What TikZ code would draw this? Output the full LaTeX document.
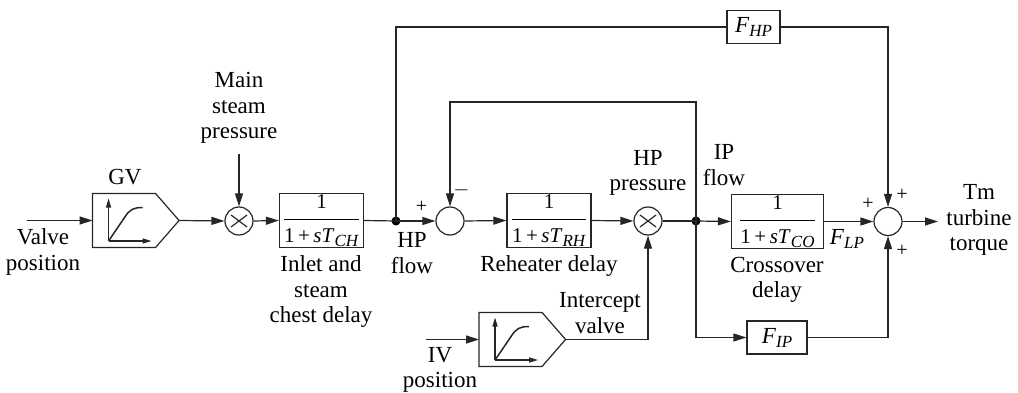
\documentclass[tikz,border=0pt]{standalone}
\usepackage{amsmath}
\usepackage{fontspec}
\setmainfont{Liberation Serif}
\usetikzlibrary{arrows.meta,calc}
\newcommand{\lblfont}{\fontsize{23}{25.5}\selectfont}
\newcommand{\lagfrac}[1]{\raisebox{-1pt}{$\dfrac{\mbox{\fontsize{21}{21}\selectfont 1}}{\mbox{\fontsize{21}{21}\selectfont 1\,+\,\textit{sT}\raisebox{-4pt}{\fontsize{17}{17}\selectfont\textit{#1}}}}$}}
\newcommand{\gainlbl}[2]{\textit{#1}\raisebox{-4pt}{\fontsize{17}{17}\selectfont\textit{#2}}}
\newcommand{\signlbl}[1]{\fontsize{20}{20}\selectfont #1}
\newcommand{\limiter}[2]{
    \node[limbox] (#1) at (#2) {};
    \begin{scope}[shift={(#1.west)}]
        \draw[line] (0,-27) -- (63,-27) -- (86.5,0) -- (63,27) -- (0,27) -- cycle;
        \draw[axis] (16,20.5) -- (16,-22);
        \draw[axis] (16,20.5) -- (59,20.5);
        \draw[line,line width=1.5pt] (16,20.5) -- (32,-3) .. controls (37,-11) and (41,-13) .. (50,-13);
    \end{scope}
}
\newcommand{\mulcross}[1]{
    \draw[line] ([shift={(-8,-6)}]#1.center) -- ([shift={(8,6)}]#1.center);
    \draw[line] ([shift={(-8,6)}]#1.center) -- ([shift={(8,-6)}]#1.center);
}
\tikzset{
    line/.style={line width=1.2pt,black!85},
    sig/.style={line,-{Triangle[length=13pt,width=8pt]}},
    axis/.style={line,-{Triangle[length=9pt,width=5pt]}},
    tfbox/.style={draw,line,minimum height=54pt,text=black},
    gainbox/.style={draw,line,minimum height=33pt,text=black},
    limbox/.style={minimum width=86.5pt,minimum height=54pt},
    junction/.style={draw,line,circle,minimum size=28pt},
    dot/.style={circle,fill=black,minimum size=9pt},
    every node/.style={font=\lblfont,align=center,inner sep=0pt}
}
\begin{document}
\begin{tikzpicture}[x=1pt,y=-1pt]
    \useasboundingbox (0,0) rectangle (1018,393);
    % blocks
    \limiter{gv}{136,220.5}
    \limiter{iv}{522.5,339.5}
    \node[tfbox,minimum width=84pt] (ch) at (321.5,220.5) {\lagfrac{CH}};
    \node[tfbox,minimum width=84pt] (rh) at (549,220.5) {\lagfrac{RH}};
    \node[tfbox,minimum width=92pt] (co) at (777.5,221.5) {\lagfrac{CO}};
    \node[gainbox,minimum width=53pt] (fhp) at (753.5,27) {\gainlbl{F}{HP}};
    \node[gainbox,minimum width=60pt] (fip) at (777,337.5) {\gainlbl{F}{IP}};
    % junctions
    \node[junction] (mul1) at (239,221) {};
    \node[junction] (mul2) at (648,221) {};
    \node[junction] (sum1) at (450,221) {};
    \node[junction] (sum2) at (888,221.5) {};
    \mulcross{mul1}
    \mulcross{mul2}
    \node[dot] (hp) at (396,221) {};
    \node[dot] (ip) at (696,221) {};
    % free ends
    \coordinate (valvein) at (27,220.5);
    \coordinate (steamin) at (239,154);
    \coordinate (ivin) at (426,339.5);
    \coordinate (fbk) at (450,102);
    \coordinate (tmout) at (938,221.5);
    % signals
    \draw[sig] (valvein) -- (gv.west);
    \draw[sig] (gv.east) -- (mul1.west);
    \draw[sig] (steamin) -- (mul1.north);
    \draw[sig] (mul1.east) -- (ch.west);
    \draw[line] (ch.east) -- (hp.center);
    \draw[sig] (hp.center) -- (sum1.west);
    \draw[sig] (sum1.east) -- (rh.west);
    \draw[sig] (rh.east) -- (mul2.west);
    \draw[line] (mul2.east) -- (ip.center);
    \draw[sig] (ip.center) -- (co.west);
    \draw[sig] (co.east) -- (sum2.west);
    \draw[sig] (sum2.east) -- (tmout);
    \draw[line] (hp.center) |- (fhp.west);
    \draw[sig] (fhp.east) -| (sum2.north);
    \draw[sig] (ip.center) |- (fbk) -- (sum1.north);
    \draw[sig] (ip.center) |- (fip.west);
    \draw[sig] (fip.east) -| (sum2.south);
    \draw[sig] (ivin) -- (iv.west);
    \draw[sig] (iv.east) -| (mul2.south);
    % labels
    \node (gvlbl) at (125,177) {GV};
    \node (valvelbl) at (43,252) {Valve\\position};
    \node (steamlbl) at (239,108) {Main\\steam\\pressure};
    \node (chlbl) at (321,292) {Inlet and\\steam\\chest delay};
    \node (hplbl) at (412,253) {HP\\flow};
    \node (rhlbl) at (549,266) {Reheater delay};
    \node (hpplbl) at (648,173) {HP\\pressure};
    \node (iclbl) at (600,313) {Intercept\\valve};
    \node (ivlbl) at (440,370) {IV\\position};
    \node (iplbl) at (724,165) {IP\\flow};
    \node (colbl) at (777,280) {Crossover\\delay};
    \node (flplbl) at (847,239) {\gainlbl{F}{LP}};
    \node (tmlbl) at (979,220) {Tm\\turbine\\torque};
    % signs
    \node (plus1) at (421.5,207) {\signlbl{+}};
    \node (minus1) at (461.5,190) {\signlbl{$-$}};
    \node (plus2) at (868,204) {\signlbl{+}};
    \node (plus3) at (902,195) {\signlbl{+}};
    \node (plus4) at (902,251) {\signlbl{+}};
\end{tikzpicture}
\end{document}
